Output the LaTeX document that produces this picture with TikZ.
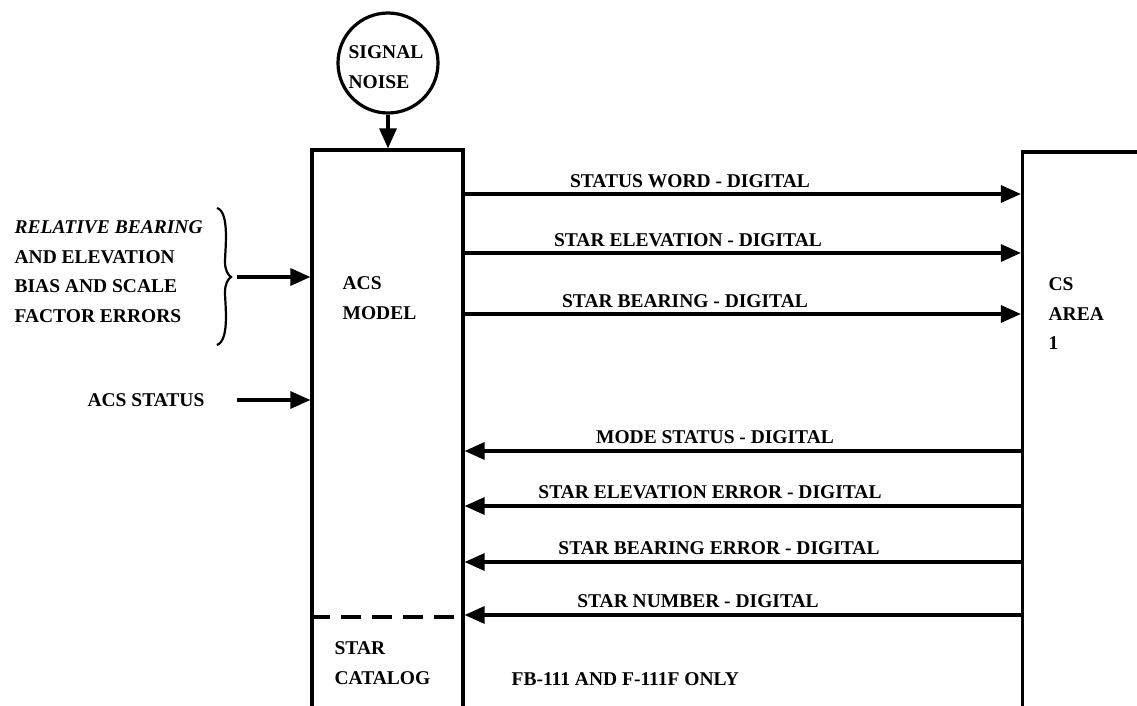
\documentclass[tikz,border=0pt]{standalone}
\usepackage{fontspec}
\setmainfont{Liberation Serif}
\usetikzlibrary{arrows.meta}
\begin{document}
\begin{tikzpicture}[x=1pt,y=-1pt,line width=3.2pt,
  lbl/.style={font=\bfseries\fontsize{19.5}{29.5}\selectfont,inner sep=0pt},
  arr/.style={-{Triangle[length=20pt,width=17pt]}},
  box/.style={draw,rectangle,inner sep=0pt,line width=3.2pt}]
\useasboundingbox[fill=white] (0,0) rectangle (1137,706);
% blocks
\node[draw,circle,minimum size=100pt,inner sep=0pt] (sn) at (388,63) {};
\node[lbl,align=left] (snt) at (386,67) {SIGNAL\\NOISE};
\node[box,minimum width=151pt,minimum height=600pt] (acs) at (387.5,450) {};
\node[box,minimum width=200pt,minimum height=600pt] (cs) at (1122.5,452) {};
\node[lbl,align=left,anchor=north west] (acst) at (341,275) {ACS\\MODEL};
\node[lbl,align=left,anchor=north west] (cst) at (1047,276) {CS\\AREA\\1};
\node[lbl,align=left,anchor=north west] (cat) at (333,640) {STAR\\CATALOG};
\node[lbl,anchor=west] (fb) at (510,679) {FB-111 AND F-111F ONLY};
\draw[dashed,dash pattern=on 20pt off 11pt] (acs.west |- 0,617) -- (acs.east |- 0,617);
% signal noise arrow
\draw[arr] (sn.south) -- (acs.north -| sn.south);
% inputs
\node[lbl,align=left,anchor=north west] (rel) at (13,219) {\itshape RELATIVE BEARING\\AND ELEVATION\\BIAS AND SCALE\\FACTOR ERRORS};
\node[lbl,anchor=east] (st) at (206,400) {ACS STATUS};
\draw[line width=2.2pt] (217,208) .. controls (230,212) and (225,250) .. (225,262) .. controls (225,270) and (228,275) .. (231,277)
  .. controls (228,279) and (225,284) .. (225,292) .. controls (225,304) and (230,340) .. (217,345);
\coordinate (bt) at (237,277);
\coordinate (ss) at (237,400);
\draw[arr] (bt) -- (acs.west |- bt);
\draw[arr] (ss) -- (acs.west |- ss);
% outputs to CS
\foreach \y/\t/\x in {194/STATUS WORD - DIGITAL/690, 253/STAR ELEVATION - DIGITAL/688, 314/STAR BEARING - DIGITAL/685}{
  \draw[arr] (acs.east |- 0,\y) -- (cs.west |- 0,\y);
  \node[lbl] at (\x,\y-13) {\t};
}
% inputs from CS
\foreach \y/\t/\x in {451/MODE STATUS - DIGITAL/715, 506/STAR ELEVATION ERROR - DIGITAL/710, 562/STAR BEARING ERROR - DIGITAL/719, 615/STAR NUMBER - DIGITAL/698}{
  \draw[arr] (cs.west |- 0,\y) -- (acs.east |- 0,\y);
  \node[lbl] at (\x,\y-14) {\t};
}
\end{tikzpicture}
\end{document}
